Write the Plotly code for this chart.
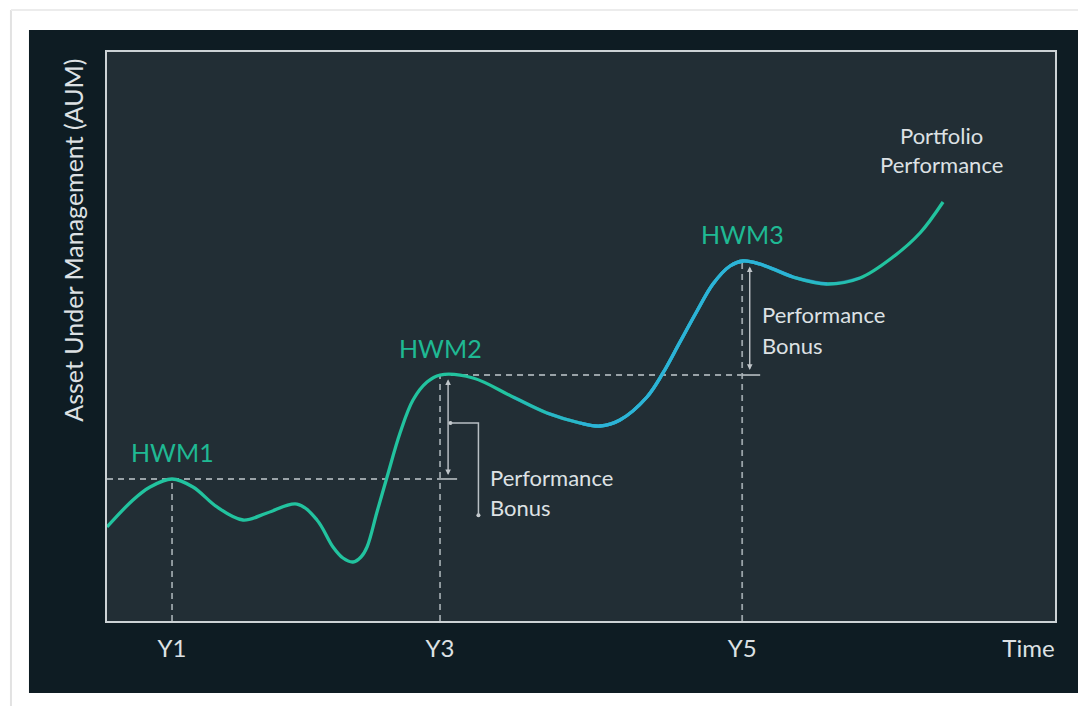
import plotly.graph_objects as go

# ---- data (arbitrary time / AUM units) ----
time_x = [0, 2.74, 4.54, 6.86, 9.07, 11.6, 14.35, 16.88, 20.04, 22.15, 23.84, 24.89,
          25.95, 26.79, 27.43, 28.48, 29.54, 30.91, 32.28, 33.76, 35.13, 38.61, 42.83,
          46.41, 49.89, 52.0, 54.11, 56.96, 58.65, 60.44, 62.24, 63.92, 65.72, 67.09,
          68.88, 72.36, 75.95, 79.43, 82.91, 85.76, 88.19]
aum_y = [16.52, 21.27, 23.55, 24.96, 23.55, 20.04, 17.75, 18.98, 20.56, 17.75, 13.01,
         11.07, 10.37, 11.25, 13.01, 19.16, 25.31, 33.04, 38.84, 42.0, 43.23, 42.71,
         39.37, 36.56, 34.8, 34.27, 35.33, 39.37, 43.59, 49.03, 54.48, 59.23, 62.39,
         63.27, 62.74, 60.46, 59.23, 60.28, 63.97, 68.19, 73.64]
hwm_labels = ["HWM1", "HWM2", "HWM3"]
hwm_x = [6.86, 35.13, 67.0]
hwm_y = [24.96, 43.23, 63.27]
tick_x = [6.86, 35.13, 67.0, 97.2]
tick_labels = ["Y1", "Y3", "Y5", "Time"]
bonus_text = ["Performance", "Bonus"]
title_text = ["Portfolio", "Performance"]

FONT = "Lato"
TEAL = "#22c39f"
BLUE = "#2db2de"
TXT = "#dde1e4"
DASH = "#9aa3a8"

fig = go.Figure()

# main curve
fig.add_trace(go.Scatter(x=time_x, y=aum_y, mode="lines",
                         line=dict(color=TEAL, width=3.3, shape="spline"),
                         hoverinfo="skip", showlegend=False))
# blue overlay (gradient effect)
for (a, b, op) in [(22, 38, 0.35), (23, 37, 0.5), (24, 36, 0.75)]:
    fig.add_trace(go.Scatter(x=time_x[a:b], y=aum_y[a:b], mode="lines",
                             line=dict(color=BLUE, width=3.3, shape="spline"),
                             opacity=op, hoverinfo="skip", showlegend=False))

shapes = []
# outer card edges
shapes.append(dict(type="line", xref="paper", yref="paper", x0=-0.1013, x1=-0.1013,
                   y0=-0.2, y1=1.0738, line=dict(color="#e2e2e2", width=2), layer="below"))
shapes.append(dict(type="line", xref="paper", yref="paper", x0=-0.1013, x1=1.1,
                   y0=1.0738, y1=1.0738, line=dict(color="#ececec", width=2), layer="below"))
# dark panel
shapes.append(dict(type="rect", xref="paper", yref="paper", x0=-0.0823, x1=1.0285,
                   y0=-0.1265, y1=1.0387, fillcolor="#0e1c23", line=dict(width=0), layer="below"))
# plot area
shapes.append(dict(type="rect", xref="paper", yref="paper", x0=0, x1=1, y0=0, y1=1,
                   fillcolor="#222e35", line=dict(width=0), layer="below"))

dash_line = dict(color=DASH, width=1.8, dash="6px,5px")
# vertical dashed lines
for hx, hy in zip(hwm_x, hwm_y):
    shapes.append(dict(type="line", xref="x", yref="y", x0=hx, x1=hx, y0=0, y1=hy,
                       line=dash_line, layer="below"))
# horizontal dashed lines
shapes.append(dict(type="line", xref="x", yref="y", x0=0, x1=hwm_x[1], y0=hwm_y[0], y1=hwm_y[0],
                   line=dash_line, layer="below"))
shapes.append(dict(type="line", xref="x", yref="y", x0=hwm_x[1], x1=hwm_x[2], y0=hwm_y[1], y1=hwm_y[1],
                   line=dash_line, layer="below"))
# short solid bars
shapes.append(dict(type="line", xref="x", yref="y", x0=hwm_x[1], x1=hwm_x[1] + 1.8,
                   y0=hwm_y[0], y1=hwm_y[0], line=dict(color="#b8bfc3", width=1.6)))
shapes.append(dict(type="line", xref="x", yref="y", x0=hwm_x[2], x1=hwm_x[2] + 1.9,
                   y0=hwm_y[1], y1=hwm_y[1], line=dict(color="#b8bfc3", width=1.6)))
# bracket
bx0, bx1, by0, by1 = hwm_x[1] + 1.1, hwm_x[1] + 4.05, 34.8, 18.6
shapes.append(dict(type="path", xref="x", yref="y",
                   path=f"M {bx0},{by0} L {bx1},{by0} L {bx1},{by1}",
                   line=dict(color="#b8bfc3", width=1.5)))
fig.add_trace(go.Scatter(x=[bx0, bx1], y=[by0, by1], mode="markers",
                         marker=dict(color="#c8cdd0", size=4), hoverinfo="skip", showlegend=False))

annotations = []
# arrows
arrow_specs = [(hwm_x[1] + 0.85, hwm_y[1] - 0.5, hwm_y[0] + 0.7),
               (hwm_x[2] + 0.8, hwm_y[2] - 0.7, hwm_y[1] + 0.9)]
for ax_, y_top, y_bot in arrow_specs:
    annotations.append(dict(x=ax_, y=y_bot, ax=ax_, ay=y_top, xref="x", yref="y",
                            axref="x", ayref="y", text="", showarrow=True,
                            arrowhead=2, startarrowhead=2, arrowside="end+start",
                            arrowsize=0.8, startarrowsize=0.8, arrowwidth=1.4,
                            arrowcolor="#bfc5c9"))
# HWM labels
for lab, hx, hy in zip(hwm_labels, hwm_x, hwm_y):
    annotations.append(dict(x=hx, y=hy, xref="x", yref="y", text=lab, showarrow=False,
                            yshift=27, font=dict(family=FONT, size=25, color="#1fb993")))
# performance bonus labels
for bx, ys in [(40.2, [25.3, 20.0]), (68.9, [53.8, 48.5])]:
    for t, yy in zip(bonus_text, ys):
        annotations.append(dict(x=bx, y=yy, xref="x", yref="y", text=t, showarrow=False,
                                xanchor="left", font=dict(family=FONT, size=22, color=TXT)))
# Portfolio performance
for t, yy in zip(title_text, [85.4, 80.3]):
    annotations.append(dict(x=88.0, y=yy, xref="x", yref="y", text=t, showarrow=False,
                            font=dict(family=FONT, size=22, color=TXT)))
# y-axis title
annotations.append(dict(x=-0.0359, y=67.0, xref="paper", yref="y", xanchor="center",
                        yanchor="middle",
                        text="Asset Under Management (AUM)", textangle=-90, showarrow=False,
                        font=dict(family=FONT, size=25, color=TXT)))

fig.update_layout(
    width=1078, height=698,
    margin=dict(l=99, r=31, t=44, b=85),
    paper_bgcolor="white",
    plot_bgcolor="rgba(0,0,0,0)",
    shapes=shapes, annotations=annotations,
    showlegend=False,
    xaxis=dict(range=[0, 100], showgrid=False, zeroline=False, showline=True, mirror=True,
               linecolor="#ccd2d5", linewidth=2, tickvals=tick_x, ticktext=tick_labels,
               ticks="", ticklabelstandoff=5, fixedrange=True,
               tickfont=dict(family=FONT, size=24, color=TXT)),
    yaxis=dict(range=[0, 100], showgrid=False, zeroline=False, showline=True, mirror=True,
               linecolor="#ccd2d5", linewidth=2, showticklabels=False, ticks="",
               fixedrange=True),
)

fig.write_html("out.html")
